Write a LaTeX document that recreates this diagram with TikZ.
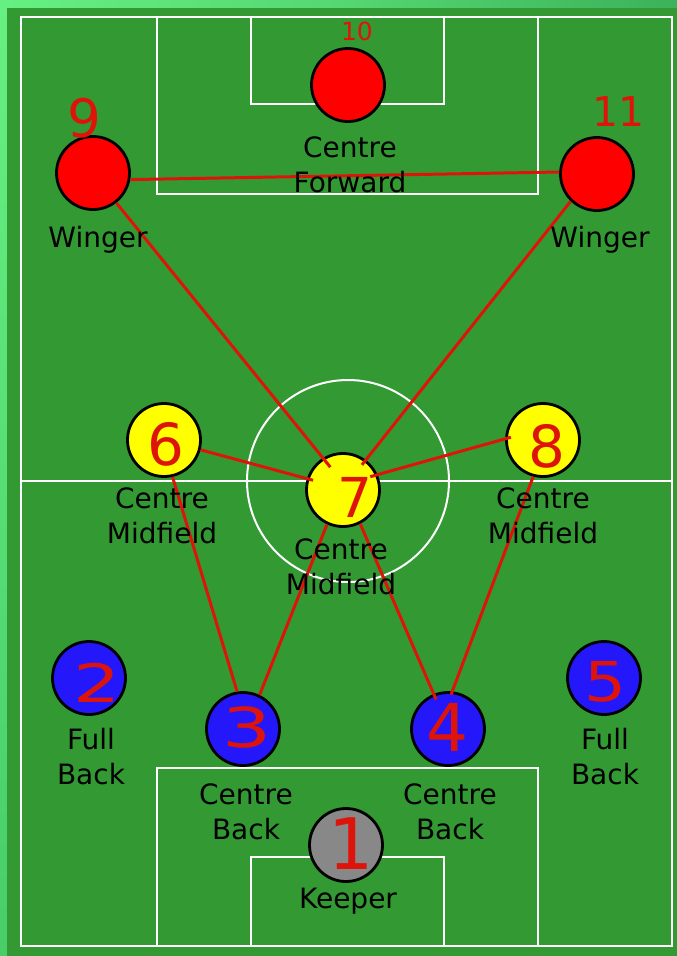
\documentclass[tikz,border=0pt]{standalone}
\usepackage{fontspec}
\setmainfont{DejaVu Sans}
\usetikzlibrary{calc}
\definecolor{pitch}{RGB}{51,153,51}
\definecolor{edgelight}{RGB}{102,240,130}
\definecolor{edgedark}{RGB}{60,178,90}
\definecolor{edgelow}{RGB}{72,205,105}
\definecolor{pblue}{RGB}{36,24,250}
\definecolor{pred}{RGB}{255,0,0}
\definecolor{pyellow}{RGB}{255,255,0}
\definecolor{pgrey}{RGB}{136,136,136}
\definecolor{linkred}{RGB}{222,20,10}
\begin{document}
\begin{tikzpicture}[x=1pt,y=-1pt,
  fieldline/.style={draw=white,line width=2pt},
  player/.style={circle,draw=black,line width=2.8pt,minimum size=73pt,inner sep=0pt},
  fwd/.style={player,fill=pred},
  mid/.style={player,fill=pyellow},
  back/.style={player,fill=pblue},
  keep/.style={player,fill=pgrey},
  role/.style={align=center,font=\fontsize{28}{35}\selectfont,text=black,inner sep=0pt},
  num/.style={text=linkred,inner sep=0pt},
  link/.style={draw=linkred,line width=3pt}]
\useasboundingbox (0,0) rectangle (677,956);
% surround
\fill[edgelight] (0,0) rectangle (677,956);
\shade[top color=edgelight,bottom color=edgelow] (0,0) rectangle (7,956);
\shade[left color=edgelight,right color=edgedark,middle color=edgelight!60!edgedark] (0,0) rectangle (677,8);
\fill[pitch] (7,8) rectangle (677,956);
% field markings
\draw[fieldline] (21,17) rectangle (672,946);
\draw[fieldline] (21,481) -- (672,481);
\draw[fieldline] (348,481) circle[radius=101];
\draw[fieldline] (157,17) rectangle (538,194);
\draw[fieldline] (251,17) rectangle (444,104);
\draw[fieldline] (157,946) rectangle (538,768);
\draw[fieldline] (251,946) rectangle (444,857);
% players
\node[fwd]  (p10) at (348,85) {};
\node[fwd]  (p9)  at (93,173) {};
\node[fwd]  (p11) at (597,174) {};
\node[mid]  (p6)  at (164,440) {};
\node[mid]  (p8)  at (543,440) {};
\node[mid]  (p7)  at (343,490) {};
\node[back] (p2)  at (89,678) {};
\node[back] (p3)  at (243,729) {};
\node[back] (p4)  at (448,729) {};
\node[back] (p5)  at (604,678) {};
\node[keep] (p1)  at (346,845) {};
% connectors
\draw[link] (p9.-10) -- (p11.177);
\draw[link] (p9.-52) -- ($(p7)!.69!(p7.119)$);
\draw[link] (p11.-134) -- ($(p7)!.83!(p7.53)$);
\draw[link] (p6.-15) -- ($(p7)!.83!(p7.162)$);
\draw[link] ($(p8)!.85!(p8.175)$) -- ($(p7)!.8!(p7.26)$);
\draw[link] (p6.-77) -- (p3.99);
\draw[link] (p7.-115) -- (p3.64);
\draw[link] (p7.-63) -- ($(p4)!.84!(p4.112)$);
\draw[link] (p8.-105) -- ($(p4)!.91!(p4.85)$);
% role labels
\node[role] (lfw) at (350,165) {Centre\\Forward};
\node[role] (lwl) at (98,240) {Winger};
\node[role] (lwr) at (600,240) {Winger};
\node[role] (lml) at (162,516) {Centre\\Midfield};
\node[role] (lmr) at (543,516) {Centre\\Midfield};
\node[role] (lmc) at (341,567) {Centre\\Midfield};
\node[role] (lfl) at (91,757) {Full\\Back};
\node[role] (lfr) at (605,757) {Full\\Back};
\node[role] (lcl) at (246,812) {Centre\\Back};
\node[role] (lcr) at (450,812) {Centre\\Back};
\node[role] (lk)  at (348,901) {Keeper};
% shirt numbers
\node[num,font=\fontsize{25}{25}\selectfont] (n10) at (357,31) {10};
\node[num,font=\fontsize{53}{53}\selectfont] (n9) at (84,118) {9};
\node[num,font=\fontsize{41}{41}\selectfont] (n11) at (619,112) {11};
\node[num,font=\fontsize{58}{58}\selectfont] (n6) at (166,444) {6};
\node[num,font=\fontsize{55}{55}\selectfont] (n7) at (355,497) {7};
\node[num,font=\fontsize{58}{58}\selectfont] (n8) at (547,446) {8};
\node[num,font=\fontsize{53}{53}\selectfont,xscale=1.4] (n2) at (97,683) {2};
\node[num,font=\fontsize{55}{55}\selectfont,xscale=1.4] (n3) at (247,727) {3};
\node[num,font=\fontsize{66}{66}\selectfont] (n4) at (447,727) {4};
\node[num,font=\fontsize{55}{55}\selectfont,xscale=1.2] (n5) at (605,682) {5};
\node[num,font=\fontsize{71}{71}\selectfont] (n1) at (351,844) {1};
\end{tikzpicture}
\end{document}
